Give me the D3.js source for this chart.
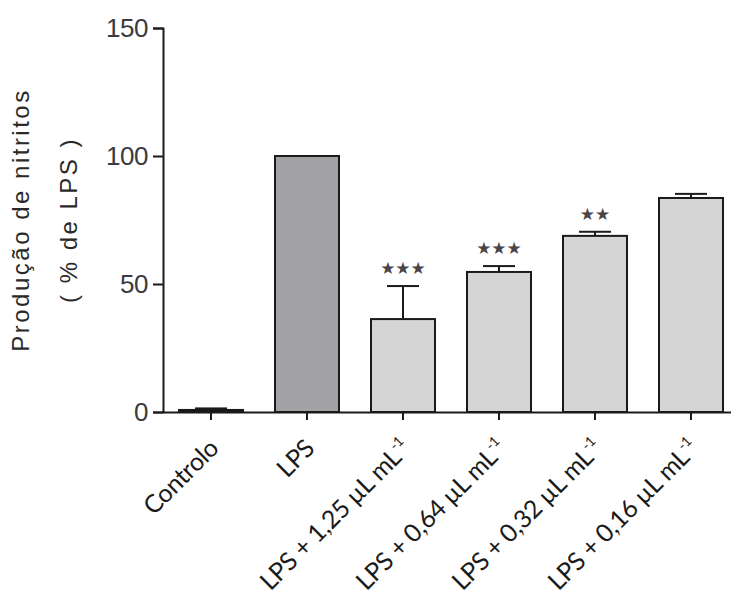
<!DOCTYPE html>
<html><head><meta charset="utf-8">
<script src="https://cdn.jsdelivr.net/npm/d3@7"></script>
<style>body{margin:0;background:#fff}</style>
</head><body>
<svg id="c" width="731" height="594"></svg>
<script>
const categories = ["Controlo","LPS","LPS + 1,25 µL mL","LPS + 0,64 µL mL","LPS + 0,32 µL mL","LPS + 0,16 µL mL"];
const superscripts = ["","","-1","-1","-1","-1"];
const values = [0.8, 100, 36.3, 54.7, 68.8, 83.6];
const errors = [0.6, 0, 12.9, 2.3, 1.6, 1.6];
const significance = ["","","***","***","**",""];
const fills = ["#000000","#a2a2a6","#d5d5d5","#d5d5d5","#d5d5d5","#d5d5d5"];
const yTicks = [0,50,100,150];

const svg = d3.select("#c");
const x = d3.scaleBand().domain(categories).range([163, 739]).paddingInner(1/3).paddingOuter(1/6);
const y = d3.scaleLinear().domain([0,150]).range([412, 28]);

// bars
svg.selectAll("rect.bar").data(categories).join("rect")
  .attr("x", d => x(d)).attr("width", x.bandwidth())
  .attr("y", (d,i) => y(values[i])).attr("height", (d,i) => y(0) - y(values[i]))
  .attr("fill", (d,i) => fills[i]).attr("stroke", "#1a1a1a").attr("stroke-width", 2);

// error bars
const eg = svg.append("g").attr("stroke","#1a1a1a").attr("stroke-width",2);
categories.forEach((c,i) => {
  if (!errors[i]) return;
  const cx = x(c) + x.bandwidth()/2;
  eg.append("line").attr("x1",cx).attr("x2",cx).attr("y1",y(values[i])).attr("y2",y(values[i]+errors[i]));
  eg.append("line").attr("x1",cx-16).attr("x2",cx+16).attr("y1",y(values[i]+errors[i])).attr("y2",y(values[i]+errors[i]));
});

// significance stars
svg.selectAll("text.sig").data(categories).join("text")
  .attr("x", d => x(d) + x.bandwidth()/2)
  .attr("y", (d,i) => y(values[i]+errors[i]) - 12)
  .attr("text-anchor","middle")
  .attr("font-family","DejaVu Sans").attr("font-size",17).attr("fill","#4a4548")
  .text((d,i) => significance[i].replace(/\*/g,"★"));

// y axis
const ya = svg.append("g").attr("transform","translate(163,0)")
  .call(d3.axisLeft(y).tickValues(yTicks).tickSize(10).tickPadding(5));
ya.select(".domain").attr("stroke","#1a1a1a").attr("stroke-width",2);
ya.selectAll(".tick line").attr("stroke","#1a1a1a").attr("stroke-width",2);
ya.selectAll(".tick text").attr("font-family","Liberation Sans, Arial").attr("font-size",26).attr("fill","#3a3a40").attr("letter-spacing",-0.5);

// x axis
const xa = svg.append("g").attr("transform","translate(0,412)")
  .call(d3.axisBottom(x).tickSize(8).tickSizeOuter(0).tickFormat(""));
xa.select(".domain").attr("stroke","#1a1a1a").attr("stroke-width",2);
xa.selectAll(".tick line").attr("stroke","#1a1a1a").attr("stroke-width",2);

// x labels
const lab = svg.selectAll("text.xl").data(categories).join("text")
  .attr("transform", d => `translate(${x(d)+x.bandwidth()/2 + 9},450) rotate(-45)`)
  .attr("text-anchor","end")
  .attr("font-family","Lato, Carlito, sans-serif").attr("font-size",25).attr("letter-spacing",-0.3).attr("fill","#1a1a1a");
lab.each(function(d,i){
  const t = d3.select(this);
  t.append("tspan").text(d);
  if (superscripts[i]) t.append("tspan").attr("dy",-11).attr("font-size",14).text(superscripts[i]);
});

// y title
const yt = svg.append("text").attr("transform","translate(0,220) rotate(-90)")
  .attr("text-anchor","middle").attr("font-family","Liberation Sans, Arial").attr("font-size",24)
  .attr("fill","#2a2a2a").attr("letter-spacing",2.5);
yt.append("tspan").attr("x",0).attr("y",29).text("Produção de nitritos");
yt.append("tspan").attr("x",0).attr("y",77).text("( % de LPS )");
</script>
</body></html>
